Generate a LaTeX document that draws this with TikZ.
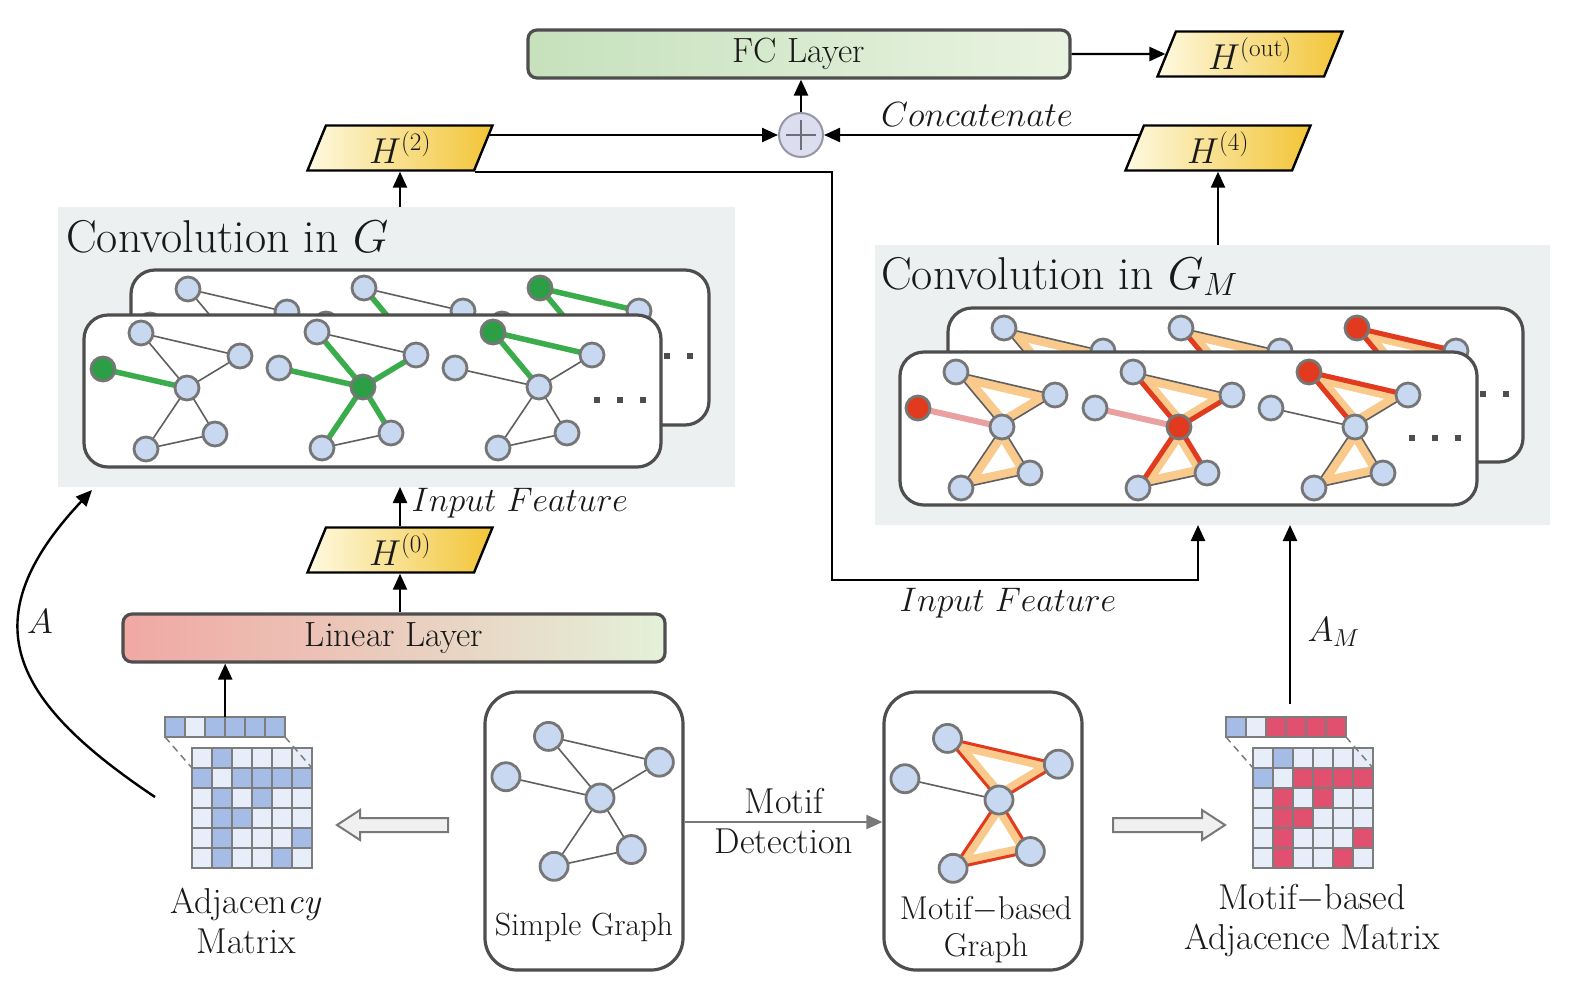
\documentclass[tikz,border=0pt]{standalone}
\usepackage{fix-cm}
\usepackage{fontspec}
\usetikzlibrary{arrows.meta,shapes.geometric,calc,backgrounds}

\definecolor{regiongray}{RGB}{237,240,240}
\definecolor{cardgray}{RGB}{78,78,78}
\definecolor{nodeblue}{RGB}{200,216,240}
\definecolor{nodegray}{RGB}{118,118,118}
\definecolor{edgegray}{RGB}{95,95,95}
\definecolor{ggreen}{RGB}{44,158,70}
\definecolor{gedgegreen}{RGB}{58,172,76}
\definecolor{mred}{RGB}{226,58,30}
\definecolor{mpink}{RGB}{234,160,160}
\definecolor{morange}{RGB}{249,202,140}
\definecolor{matB}{RGB}{165,189,230}
\definecolor{matL}{RGB}{232,238,249}
\definecolor{matR}{RGB}{226,80,112}
\definecolor{matline}{RGB}{125,125,125}
\definecolor{fcL}{RGB}{198,225,188}
\definecolor{fcR}{RGB}{233,243,225}
\definecolor{linL}{RGB}{240,168,163}
\definecolor{linR}{RGB}{228,241,216}
\definecolor{paraL}{RGB}{254,250,225}
\definecolor{paraR}{RGB}{242,196,54}
\definecolor{plusfill}{RGB}{221,221,240}
\definecolor{plusborder}{RGB}{150,150,165}
\definecolor{plusline}{RGB}{110,110,120}
\definecolor{arrowgray}{RGB}{120,120,120}
\definecolor{hollowfill}{RGB}{240,240,240}
\definecolor{txt}{RGB}{25,25,25}

\tikzset{
  arr/.style={draw=black, line width=2.4pt, -{Triangle[length=16pt,width=14pt]}},
  grayarr/.style={draw=arrowgray, line width=2.2pt, -{Triangle[length=16pt,width=14pt]}},
  region/.style={fill=regiongray, draw=none, inner sep=0pt, outer sep=0pt},
  card/.style={draw=cardgray, line width=3.2pt, rounded corners=24pt, fill=white},
  gbox/.style={draw=cardgray, line width=3.2pt, rounded corners=32pt, fill=white, minimum width=198pt, minimum height=278pt, inner sep=0pt},
  layerbox/.style={draw=cardgray, line width=3.2pt, rounded corners=9pt, minimum width=542pt, minimum height=48pt, inner sep=0pt, font=\fontsize{35pt}{42pt}\selectfont},
  para/.style={trapezium, trapezium left angle=60, trapezium right angle=120, trapezium stretches body, draw=black, line width=2.4pt, left color=paraL, right color=paraR, minimum width=185pt, minimum height=45pt, inner sep=0pt, font=\fontsize{36pt}{42pt}\selectfont},
  gnode/.style={circle, draw=nodegray, line width=2.8pt, fill=nodeblue, inner sep=0pt},
  gedge/.style={draw=edgegray, line width=1.6pt},
  gedgeG/.style={draw=gedgegreen, line width=5.5pt},
  redthick/.style={draw=mred, line width=5pt},
  redthin/.style={draw=mred, line width=3pt},
  pinkedge/.style={draw=mpink, line width=6pt},
  band/.style={draw=morange, line width=18pt},
  E13/.style={gedge}, E14/.style={gedge}, E34/.style={gedge}, E24/.style={gedge},
  E45/.style={gedge}, E46/.style={gedge}, E56/.style={gedge},
  N1/.style={}, N2/.style={}, N3/.style={}, N4/.style={}, N5/.style={}, N6/.style={},
  dotsq/.style={fill=cardgray},
  hollow/.style={draw=arrowgray, fill=hollowfill, line width=2pt, line join=miter},
  cell/.style={draw=matline, line width=1.5pt},
}

\newcommand{\gcoords}[4]{%
  \path[shift={(#2,#3)}, scale=#4]
    (-46,-55) coordinate (#1c1)
    (-84,-19) coordinate (#1c2)
    (53,-32) coordinate (#1c3)
    (0,0) coordinate (#1c4)
    (-41,61) coordinate (#1c5)
    (28,46) coordinate (#1c6);}
\newcommand{\gedges}[1]{%
  \draw[E13] (#1c1) -- (#1c3);
  \draw[E14] (#1c1) -- (#1c4);
  \draw[E34] (#1c3) -- (#1c4);
  \draw[E24] (#1c2) -- (#1c4);
  \draw[E45] (#1c4) -- (#1c5);
  \draw[E46] (#1c4) -- (#1c6);
  \draw[E56] (#1c5) -- (#1c6);}
\newcommand{\gnodes}[2]{%
  \node[gnode,N1,minimum size=#2] (#1n1) at (#1c1) {};
  \node[gnode,N2,minimum size=#2] (#1n2) at (#1c2) {};
  \node[gnode,N3,minimum size=#2] (#1n3) at (#1c3) {};
  \node[gnode,N4,minimum size=#2] (#1n4) at (#1c4) {};
  \node[gnode,N5,minimum size=#2] (#1n5) at (#1c5) {};
  \node[gnode,N6,minimum size=#2] (#1n6) at (#1c6) {};}
\newcommand{\gbands}[1]{%
  \begin{scope}\clip (#1c1) -- (#1c3) -- (#1c4) -- cycle;
    \draw[band] (#1c1) -- (#1c3) -- (#1c4) -- cycle;\end{scope}
  \begin{scope}\clip (#1c4) -- (#1c5) -- (#1c6) -- cycle;
    \draw[band] (#1c4) -- (#1c5) -- (#1c6) -- cycle;\end{scope}}
\newcommand{\Gone}[3]{\gcoords{#1}{#2}{#3}{1}%
  \begin{scope}[E24/.style={gedgeG}, N2/.style={fill=ggreen}]\gedges{#1}\gnodes{#1}{24pt}\end{scope}}
\newcommand{\Gtwo}[3]{\gcoords{#1}{#2}{#3}{1}%
  \begin{scope}[E14/.style={gedgeG}, E24/.style={gedgeG}, E34/.style={gedgeG}, E45/.style={gedgeG}, E46/.style={gedgeG}, N4/.style={fill=ggreen}]\gedges{#1}\gnodes{#1}{24pt}\end{scope}}
\newcommand{\Gthree}[3]{\gcoords{#1}{#2}{#3}{1}%
  \begin{scope}[E13/.style={gedgeG}, E14/.style={gedgeG}, N1/.style={fill=ggreen}]\gedges{#1}\gnodes{#1}{24pt}\end{scope}}
\newcommand{\Mone}[3]{\gcoords{#1}{#2}{#3}{1}\gbands{#1}%
  \begin{scope}[E24/.style={pinkedge}, N2/.style={fill=mred}]\gedges{#1}\gnodes{#1}{24pt}\end{scope}}
\newcommand{\Mtwo}[3]{\gcoords{#1}{#2}{#3}{1}\gbands{#1}%
  \begin{scope}[E14/.style={redthick}, E34/.style={redthick}, E45/.style={redthick}, E46/.style={redthick}, E24/.style={pinkedge}, N4/.style={fill=mred}]\gedges{#1}\gnodes{#1}{24pt}\end{scope}}
\newcommand{\Mthree}[3]{\gcoords{#1}{#2}{#3}{1}\gbands{#1}%
  \begin{scope}[E13/.style={redthick}, E14/.style={redthick}, N1/.style={fill=mred}]\gedges{#1}\gnodes{#1}{24pt}\end{scope}}
\newcommand{\mkmatrix}[4]{%
  \foreach \v [count=\c from 0] in {#2} \filldraw[cell, fill=mat\v] ({#1+\c*20},717) rectangle ++(20,20);
  \foreach \row [count=\r from 0] in {#4} {\foreach \v [count=\c from 0] in \row {\filldraw[cell, fill=mat\v] ({#3+\c*20},{748+\r*20}) rectangle ++(20,20);}}
  \draw[cell, dash pattern=on 7pt off 5pt] (#1,737) -- (#3,768);
  \draw[cell, dash pattern=on 7pt off 5pt] ({#1+120},737) -- ({#3+120},768);}

\begin{document}
\begin{tikzpicture}[x=1pt, y=-1pt, font=\fontsize{35pt}{42pt}\selectfont, text=txt]
\useasboundingbox (0,0) rectangle (1588,1005);

% ---- regions
\node[region, minimum width=677pt, minimum height=280pt, anchor=north west] (rg) at (58,207) {};
\node[region, minimum width=675pt, minimum height=280pt, anchor=north west] (rgm) at (875,245) {};
\node[anchor=base west, inner sep=0pt, font=\fontsize{46pt}{54pt}\selectfont] (tg) at (66,252) {Convolution in $G$};
\node[anchor=base west, inner sep=0pt, font=\fontsize{46pt}{54pt}\selectfont] (tgm) at (881,289) {Convolution in $G_M$};

% ---- G cards
\draw[card] (131,270) rectangle (709,425);
\Gone{gba}{234}{344}
\Gtwo{gbb}{410}{343}
\Gthree{gbc}{586}{343}
\foreach \x in {644,667,690} \fill[dotsq] (\x-3,353) rectangle ++(6,6);
\draw[card] (84,315) rectangle (661,467);
\Gone{gfa}{187}{388}
\Gtwo{gfb}{363}{387}
\Gthree{gfc}{539}{387}
\foreach \x in {597,620,643} \fill[dotsq] (\x-3,397) rectangle ++(6,6);

% ---- GM cards
\draw[card] (948,308) rectangle (1523,462);
\Mone{mba}{1050}{383}
\Mtwo{mbb}{1227}{383}
\Mthree{mbc}{1403}{383}
\foreach \x in {1460,1483,1506} \fill[dotsq] (\x-3,391) rectangle ++(6,6);
\draw[card] (900,352) rectangle (1477,505);
\Mone{mfa}{1002}{427}
\Mtwo{mfb}{1179}{427}
\Mthree{mfc}{1355}{427}
\foreach \x in {1412,1435,1458} \fill[dotsq] (\x-3,435) rectangle ++(6,6);

% ---- bottom graphs
\node[gbox] (sg) at (584,831) {};
\node[gbox] (mg) at (983,831) {};
\gcoords{sgr}{600}{798}{1.12}
\gedges{sgr}
\gnodes{sgr}{28pt}
\gcoords{mgr}{999}{800}{1.12}
\gbands{mgr}
\begin{scope}[E13/.style={redthin},E14/.style={redthin},E34/.style={redthin},E45/.style={redthin},E46/.style={redthin},E56/.style={redthin}]
\gedges{mgr}
\gnodes{mgr}{28pt}
\end{scope}
\node[font=\fontsize{32pt}{38pt}\selectfont] (sgl) at (584,927) {Simple Graph};
\node[align=center, font=\fontsize{33pt}{37pt}\selectfont] (mgl) at (986,930) {Motif$-$based\\Graph};

% ---- layers and features
\node[layerbox, left color=fcL, right color=fcR] (fc) at (799,54) {FC Layer};
\node[layerbox, left color=linL, right color=linR] (lin) at (394,638) {Linear Layer};
\node[para] (h2) at (400,148) {$H^{(2)}$};
\node[para] (h4) at (1218,148) {$H^{(4)}$};
\node[para] (hout) at (1250,54) {$H^{(\mathrm{out})}$};
\node[para] (h0) at (400,550) {$H^{(0)}$};
\node[circle, draw=plusborder, line width=2pt, fill=plusfill, minimum size=44pt, inner sep=0pt] (plus) at (801,135) {};
\draw[draw=plusline, line width=1.6pt] ($(plus.center)+(-15,0)$) -- ($(plus.center)+(15,0)$) ($(plus.center)+(0,-15)$) -- ($(plus.center)+(0,15)$);

% ---- matrices
\mkmatrix{165}{B,L,B,B,B,B}{192}{{L,B,L,L,L,L},{B,L,B,B,B,B},{L,B,L,B,L,L},{L,B,B,L,L,L},{L,B,L,L,L,B},{L,B,L,L,B,L}}
\mkmatrix{1226}{B,L,R,R,R,R}{1253}{{L,B,L,L,L,L},{B,L,R,R,R,R},{L,R,L,R,L,L},{L,R,R,L,L,L},{L,R,L,L,L,R},{L,R,L,L,R,L}}
\node[inner sep=0pt, minimum width=120pt, minimum height=20pt, anchor=north west] (astrip) at (165,717) {};
\node[inner sep=0pt, minimum width=120pt, minimum height=20pt, anchor=north west] (mstrip) at (1226,717) {};

% ---- hollow arrows (drawn shapes)
\draw[hollow] (448,818) -- (360,818) -- (360,810) -- (337,825) -- (360,840) -- (360,832) -- (448,832) -- cycle;
\draw[hollow] (1113,818) -- (1202,818) -- (1202,810) -- (1225,825) -- (1202,840) -- (1202,832) -- (1113,832) -- cycle;

% ---- connectors
\draw[arr] (plus.north) -- (plus.north |- fc.south);
\draw[arr] (fc.east) -- (hout.west);
\draw[arr] (h2.south |- rg.north) -- (h2.south);
\draw[arr] (h4.south |- rgm.north) -- (h4.south);
\draw[arr] (h0.north) -- (h0.north |- rg.south);
\draw[arr] (h0.south |- lin.north) -- (h0.south);
\draw[arr] (astrip.north) -- (astrip.north |- lin.south);
\coordinate (turn) at (832,580);
\coordinate (gmin) at (1198,580);
\draw[arr] (h2.bottom right corner) -| (turn) -| (gmin |- rgm.south);
\coordinate (amstart) at (1290,704);
\draw[arr] (amstart) -- (amstart |- rgm.south);
\coordinate (as) at (155,797);
\coordinate (ae) at (92,490);
\draw[arr] (as) .. controls (10,700) and (-30,620) .. (ae);
\draw[grayarr] ($(sg.east)+(0,-9)$) -- ($(mg.west)+(0,-9)$);

% ---- labels
\node[anchor=base west, font=\fontsize{34pt}{40pt}\selectfont] (if1) at (408,511) {$Input\ Feature$};
\node[anchor=base, font=\fontsize{34pt}{40pt}\selectfont] (if2) at (1008,611) {$Input\ Feature$};
\node[anchor=base] (cc) at (977,126) {$Concatenate$};
\node (alab) at (40,622) {$A$};
\node[anchor=base west] (amlab) at (1304,641) {$A_M$};
\node[align=center, font=\fontsize{36pt}{40pt}\selectfont] (md) at (784,821) {Motif\\Detection};
\node[align=center, font=\fontsize{36pt}{40pt}\selectfont] (al) at (246,921) {Adjacen\textit{cy}\\Matrix};
\node[align=center, font=\fontsize{36pt}{40pt}\selectfont] (ml) at (1312,921) {Motif$-$based\\Adjacence Matrix};

% ---- background connectors
\begin{scope}[on background layer]
\fill[white] (0,0) rectangle (1588,1005);
\draw[arr] (h2.center |- plus.west) -- (plus.west);
\draw[arr] (h4.center |- plus.east) -- (plus.east);
\end{scope}
\end{tikzpicture}
\end{document}
